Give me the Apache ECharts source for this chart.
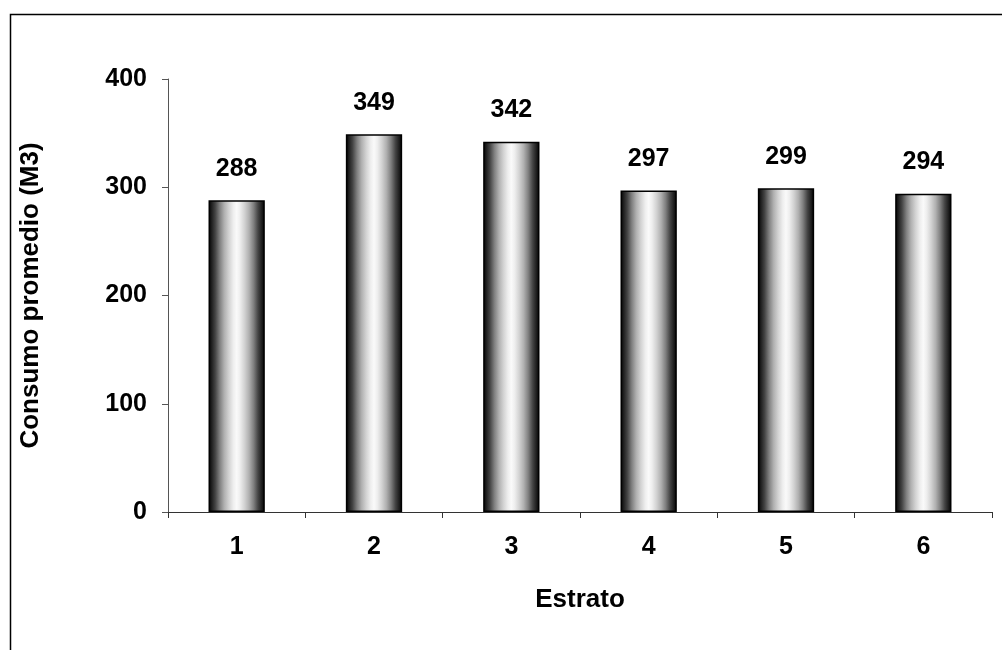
<!DOCTYPE html>
<html><head><meta charset="utf-8">
<script src="https://cdn.jsdelivr.net/npm/echarts@6/dist/echarts.min.js"></script>
<style>html,body{margin:0;padding:0;background:#fff}#c{width:1002px;height:650px}</style>
</head><body><div id="c"></div>
<script>
var categories = ['1','2','3','4','5','6'];
var values = [288, 349, 342, 297, 299, 294];
var yTicks = [0, 100, 200, 300, 400];

var barGrad = {
  type: 'linear', x: 0, y: 0, x2: 1, y2: 0,
  colorStops: [
    {offset: 0, color: '#000'},
    {offset: 0.06, color: '#222'},
    {offset: 0.12, color: '#444'},
    {offset: 0.2, color: '#808080'},
    {offset: 0.28, color: '#b0b0b0'},
    {offset: 0.36, color: '#d2d2d2'},
    {offset: 0.44, color: '#eeeeee'},
    {offset: 0.5, color: '#fafafa'},
    {offset: 0.56, color: '#eeeeee'},
    {offset: 0.64, color: '#d2d2d2'},
    {offset: 0.72, color: '#b0b0b0'},
    {offset: 0.8, color: '#808080'},
    {offset: 0.88, color: '#444'},
    {offset: 0.94, color: '#222'},
    {offset: 1, color: '#000'}
  ]
};
var font = 'Liberation Sans, Arial, sans-serif';
var chart = echarts.init(document.getElementById('c'), null, {renderer: 'canvas'});
chart.setOption({
  animation: false,
  backgroundColor: '#fff',
  graphic: [{
    type: 'rect', left: 8, top: 12, shape: {x: 0, y: 0, width: 1010, height: 660},
    style: {fill: 'none', stroke: '#000', lineWidth: 1.5}, z: -1
  }],
  grid: {left: 168, right: 10, top: 79, bottom: 138, containLabel: false},
  xAxis: {
    type: 'category', data: categories,
    name: 'Estrato', nameLocation: 'middle', nameGap: 75,
    nameTextStyle: {fontFamily: font, fontWeight: 'bold', fontSize: 26, color: '#000'},
    axisLine: {lineStyle: {color: '#333', width: 1}},
    axisTick: {show: true, interval: 0, length: 6, lineStyle: {color: '#333'}},
    axisLabel: {fontFamily: font, fontWeight: 'bold', fontSize: 25, color: '#000', margin: 23}
  },
  yAxis: {
    type: 'value', min: yTicks[0], max: yTicks[yTicks.length-1], interval: 100,
    name: 'Consumo promedio (M3)', nameLocation: 'middle', nameGap: 124, nameRotate: 90,
    nameTextStyle: {fontFamily: font, fontWeight: 'bold', fontSize: 26, color: '#000'},
    axisLine: {show: true, lineStyle: {color: '#555', width: 1}},
    axisTick: {show: true, length: 6, lineStyle: {color: '#555'}},
    splitLine: {show: false},
    axisLabel: {fontFamily: font, fontWeight: 'bold', fontSize: 25, color: '#000', margin: 21}
  },
  series: [{
    type: 'bar', data: values, barWidth: '41%',
    itemStyle: {color: barGrad, borderColor: '#000', borderWidth: 1.5},
    label: {show: true, position: 'top', distance: 19, fontFamily: font, fontWeight: 'bold', fontSize: 25, color: '#000'}
  }]
});
</script></body></html>
